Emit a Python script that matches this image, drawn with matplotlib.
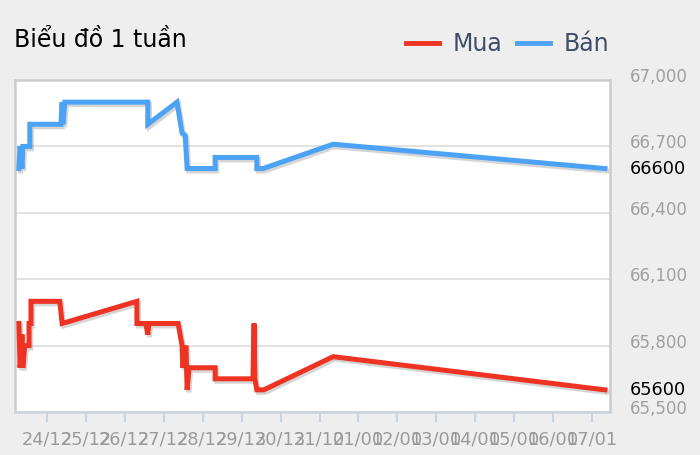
import matplotlib
matplotlib.use("Agg")
import matplotlib.pyplot as plt
import matplotlib.patheffects as pe
import matplotlib.transforms as mtransforms
from matplotlib.ticker import FuncFormatter

# x: days relative to 24/12 (0 = 24/12)
tick_labels = ["24/12", "25/12", "26/12", "27/12", "28/12", "29/12", "30/12", "31/12",
               "01/01", "02/01", "03/01", "04/01", "05/01", "06/01", "07/01"]
y_ticks = [65500, 65800, 66100, 66400, 66700, 67000]

ban_x = [-0.72, -0.69, -0.64, -0.62, -0.44, -0.44, 0.36, 0.39, 0.41, 0.46, 2.59, 2.59,
         3.34, 3.47, 3.55, 3.60, 4.32, 4.32, 5.39, 5.39, 5.55, 7.35, 14.33]
ban_y = [66600, 66700, 66600, 66700, 66700, 66800, 66800, 66900, 66800, 66900, 66900, 66800,
         66900, 66760, 66750, 66600, 66600, 66650, 66650, 66600, 66600, 66710, 66600]

mua_x = [-0.72, -0.69, -0.64, -0.62, -0.57, -0.46, -0.46, -0.41, -0.41, 0.33, 0.39, 2.31,
         2.31, 2.54, 2.59, 2.62, 3.37, 3.47, 3.49, 3.57, 3.60, 3.65, 4.32, 4.32, 5.29,
         5.32, 5.34, 5.39, 5.57, 7.35, 14.33]
mua_y = [65900, 65700, 65850, 65700, 65800, 65800, 65900, 65900, 66000, 66000, 65900, 66000,
         65900, 65900, 65850, 65900, 65900, 65800, 65700, 65800, 65600, 65700, 65700, 65650, 65650,
         65900, 65650, 65600, 65600, 65750, 65600]

last_mua = 65600
last_ban = 66600

RED = "#ee3323"
BLUE = "#4ca3f5"
BG = "#eeeeee"

fig = plt.figure(figsize=(7, 4.55), dpi=100, facecolor=BG)
ax = fig.add_axes([15/700, 43/455, 595/700, 332/455])
ax.set_facecolor("white")

shadow = [pe.SimpleLineShadow(offset=(1.2, -1.8), shadow_color="#777777", alpha=0.3), pe.Normal()]
l_mua, = ax.plot(mua_x, mua_y, color=RED, lw=3.6, solid_joinstyle="miter", path_effects=shadow, zorder=3, label="Mua")
l_ban, = ax.plot(ban_x, ban_y, color=BLUE, lw=3.6, solid_joinstyle="miter", path_effects=shadow, zorder=3, label="Bán")

ax.set_xlim(-0.82, 14.46)
ax.set_ylim(65500, 67000)
ax.set_xticks(range(len(tick_labels)))
ax.set_xticklabels(tick_labels)
ax.set_yticks(y_ticks)
ax.yaxis.set_major_formatter(FuncFormatter(lambda v, p: f"{int(v):,}"))
ax.yaxis.tick_right()
ax.tick_params(axis="y", length=0, pad=14, labelsize=12, labelcolor="#a0a0a0")
ax.tick_params(axis="x", length=7, width=1.5, color="#c5d3e3", pad=6, labelsize=12.8, labelcolor="#9a9a9a")
for lab in ax.get_yticklabels():
    lab.set_transform(lab.get_transform() + mtransforms.ScaledTranslation(0, 5/100, fig.dpi_scale_trans))
ax.grid(axis="y", color="#dddddd", lw=1.2)
ax.set_axisbelow(True)
for s in ax.spines.values():
    s.set_color("#cccccc")
    s.set_linewidth(1.8)
ax.spines["bottom"].set_color("#c9d3de")

for val in (last_mua, last_ban):
    ax.annotate(f"{val}", xy=(1, val), xycoords=("axes fraction", "data"),
                xytext=(20, 0), textcoords="offset pixels", ha="left", va="center",
                fontsize=12.8, color="black")

fig.text(14/700, 1 - 40/455, "Biểu đồ 1 tuần", fontsize=17, color="black", ha="left", va="center")

leg = fig.legend(handles=[l_mua, l_ban], labels=["Mua", "Bán"], ncol=2, frameon=False,
                 loc="center right", bbox_to_anchor=(609/700, 1 - 44/455),
                 fontsize=17, handlelength=1.4, handletextpad=0.55, columnspacing=0.65,
                 borderaxespad=0, borderpad=0)
for t in leg.get_texts():
    t.set_color("#3f4e66")
for h in leg.legend_handles:
    h.set_path_effects([])
    h.set_linewidth(3.5)

fig.savefig("out.png", dpi=100, facecolor=BG)
